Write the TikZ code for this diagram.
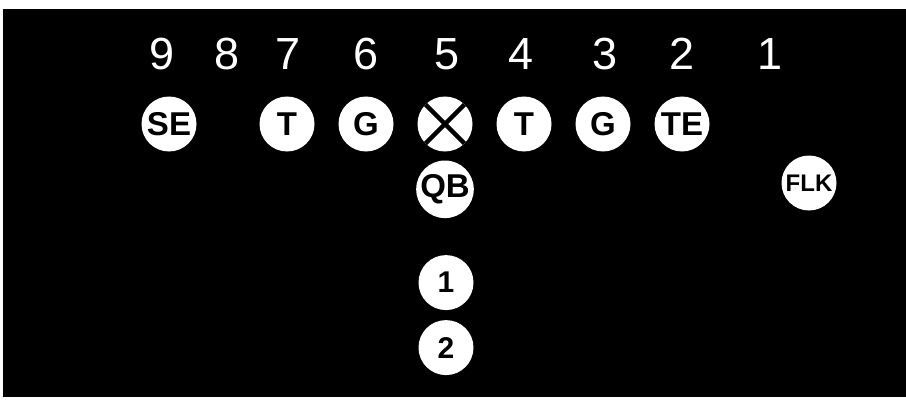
\documentclass[tikz,border=0pt]{standalone}
\usepackage{fontspec}
\setmainfont{Liberation Sans}
\usetikzlibrary{positioning}

\begin{document}
\begin{tikzpicture}[x=1pt, y=1pt, node distance=24pt,
            player/.style={circle, fill=white, minimum size=55pt, inner sep=0pt, outer sep=0pt, text=black, font=\bfseries\fontsize{33}{33}\selectfont},
            back/.style={player, font=\bfseries\fontsize{30}{30}\selectfont},
            hole/.style={inner sep=0pt, text=white, font=\fontsize{45}{45}\selectfont},
            cross/.style={line width=4.5pt, black}]

            % Field
            \useasboundingbox (0,0) rectangle (906,400);
            \fill[white] (0,0) rectangle (906,400);
            \fill[black] (3,3) rectangle (906,391);

            % Hole numbers
            \node (h9) [hole] at (162,346) {9};
            \node (h8) [hole] at (227,346) {8};
            \node (h7) [hole] at (288,346) {7};
            \node (h6) [hole] at (366,346) {6};
            \node (h5) [hole] at (447,346) {5};
            \node (h4) [hole] at (521,346) {4};
            \node (h3) [hole] at (605,346) {3};
            \node (h2) [hole] at (682,346) {2};
            \node (h1) [hole] at (770,346) {1};

            % Line
            \node (center) [player] at (445,276) {};
            \node (lg) [player, left=of center] {G};
            \node (lt) [player, left=of lg] {T};
            \node (se) [player, left=of lt, xshift=-39pt] {SE};
            \node (rt) [player, right=of center] {T};
            \node (rg) [player, right=of rt] {G};
            \node (te) [player, right=of rg] {TE};
            \draw [cross] (center.45) -- (center.225);
            \draw [cross] (center.135) -- (center.315);

            % Backfield
            \node (qb) [player, below=of center, yshift=15pt] {QB};
            \node (flk) [player, font=\bfseries\fontsize{24}{24}\selectfont] at (809,217) {FLK};
            \node (b1) [back, below=of qb, yshift=-13pt, xshift=1pt] {1};
            \node (b2) [back, below=of b1, yshift=14pt] {2};
        \end{tikzpicture}
\end{document}
